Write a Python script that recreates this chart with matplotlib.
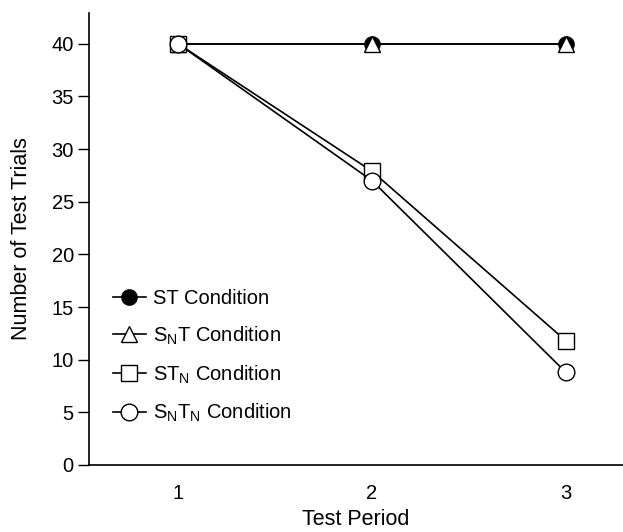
import matplotlib
matplotlib.use("Agg")
import matplotlib.pyplot as plt
from matplotlib import font_manager

names = {f.name for f in font_manager.fontManager.ttflist}
base = "Liberation Sans Narrow" if "Liberation Sans Narrow" in names else "Liberation Sans"
plt.rcParams["font.family"] = [base, "DejaVu Sans"]
plt.rcParams["mathtext.default"] = "regular"

periods = [1, 2, 3]
st = [40, 40, 40]
snt = [40, 40, 40]
stn = [40, 27.9, 11.8]
sntn = [40, 27.0, 8.8]
labels = [
    "ST Condition",
    "S$_N$T Condition",
    "ST$_N$ Condition",
    "S$_N$T$_N$ Condition",
]

fig = plt.figure(figsize=(6.23, 5.32), dpi=100)
ax = fig.add_axes([0.143, 0.126, 0.857, 0.85])

lw = 1.2
ax.plot(periods, st, "-o", color="black", mfc="black", mec="black", ms=11, lw=lw, label=labels[0], zorder=2)
ax.plot(periods, snt, "-^", color="black", mfc="white", mec="black", ms=12, lw=lw, label=labels[1], zorder=3)
ax.plot(periods, stn, "-s", color="black", mfc="white", mec="black", ms=12, lw=lw, label=labels[2], zorder=4)
ax.plot(periods, sntn, "-o", color="black", mfc="white", mec="black", ms=12, lw=lw, label=labels[3], zorder=5)

ax.set_xlim(0.54, 3.295)
ax.set_ylim(0, 42.95)
ax.set_xticks(periods)
ax.set_yticks(range(0, 41, 5))
ax.tick_params(axis="x", length=0, labelsize=14.5, pad=14)
ax.tick_params(axis="y", length=8, width=1, labelsize=14.5, pad=3)
for s in ["top", "right"]:
    ax.spines[s].set_visible(False)
for s in ["left", "bottom"]:
    ax.spines[s].set_linewidth(1.2)

ax.set_xlabel("Test Period", fontsize=15.5, labelpad=4)
ax.set_ylabel("Number of Test Trials", fontsize=15.5, labelpad=14)

ax.legend(loc="lower left", bbox_to_anchor=(0.029, 0.072), frameon=False, fontsize=14.5,
          handlelength=1.65, handletextpad=0.35, labelspacing=0.82, borderaxespad=0)

fig.savefig("out.png", dpi=100)
